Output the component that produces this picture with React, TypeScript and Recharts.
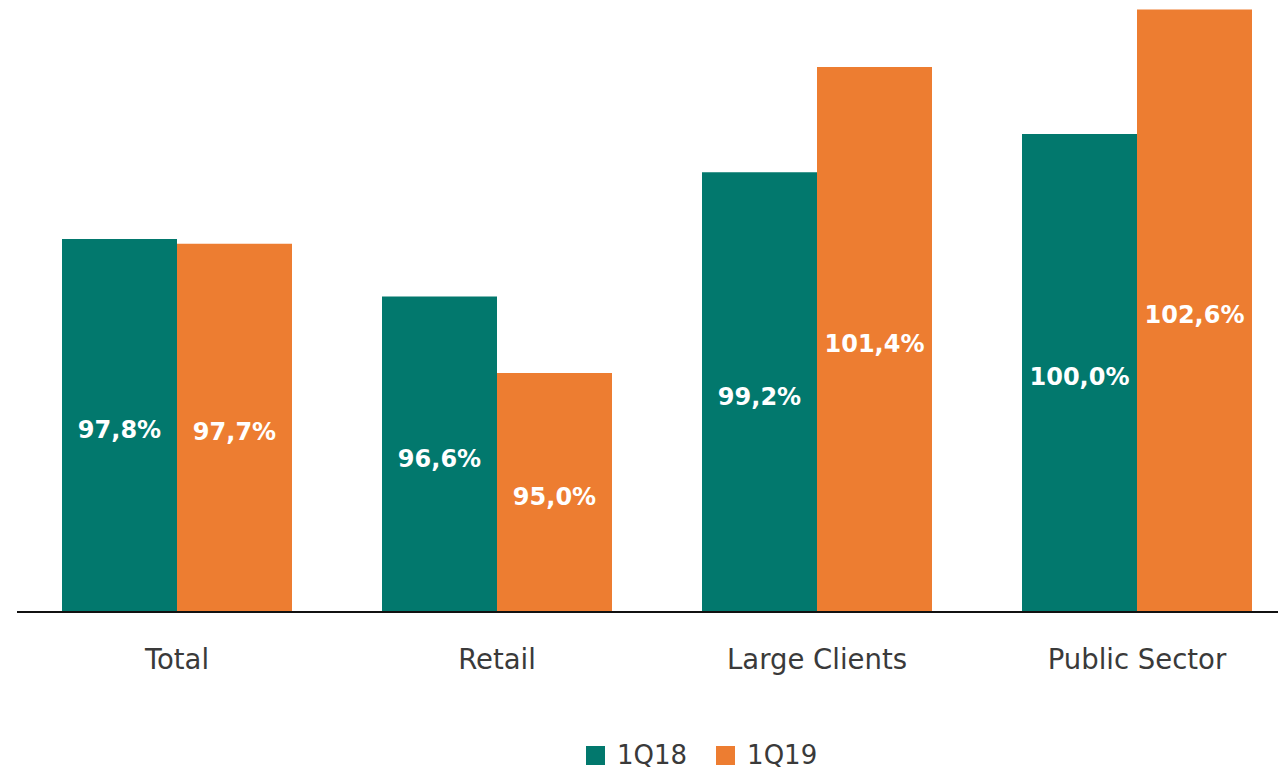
import { BarChart, Bar, XAxis, YAxis, Legend, LabelList } from 'recharts'

const categories = ['Total', 'Retail', 'Large Clients', 'Public Sector']
const q18 = [97.8, 96.6, 99.2, 100.0]
const q19 = [97.7, 95.0, 101.4, 102.6]
const seriesNames = ['1Q18', '1Q19']
const colors = ['#02786D', '#ED7D31']

const data = categories.map((name, i) => ({ name, q18: q18[i], q19: q19[i] }))

const font = '"DejaVu Sans", Verdana, sans-serif'
const fmt = (v: number) => v.toFixed(1).replace('.', ',') + '%'

function Tick(props: any) {
  const { x, y, payload } = props
  return (
    <text x={x} y={y + 39} textAnchor="middle" dominantBaseline="central" fill="#3a3a3a" fontSize={27.5} fontFamily={font}>
      {payload.value}
    </text>
  )
}

function LegendBox() {
  return (
    <div style={{ display: 'flex', height: 60, fontFamily: font, fontSize: 26, color: '#3a3a3a' }}>
      {seriesNames.map((s, i) => (
        <div key={s} style={{ display: 'flex', alignItems: 'center', marginTop: 31, height: 24, marginRight: 29 }}>
          <span style={{ width: 19, height: 19, background: colors[i], display: 'inline-block', marginRight: 12 }} />
          <span>{s}</span>
        </div>
      ))}
    </div>
  )
}

export default function App() {
  return (
    <div style={{ position: 'absolute', left: 0, top: 0, width: 1278, height: 772, overflow: 'hidden', background: '#fff' }}>
      <BarChart
        width={1310}
        height={772}
        data={data}
        margin={{ top: 0, right: 13, left: 17, bottom: 0 }}
        barCategoryGap={45}
        barGap={0}
      >
        <XAxis dataKey="name" tickLine={false} axisLine={{ stroke: '#111', strokeWidth: 2 }} tick={<Tick />} height={100} interval={0} />
        <YAxis hide domain={[90, 102.8]} allowDataOverflow />
        <Legend verticalAlign="bottom" height={60} content={<LegendBox />} wrapperStyle={{ left: 586, width: 320 }} />
        <Bar dataKey="q18" name="1Q18" fill={colors[0]} isAnimationActive={false}>
          <LabelList dataKey="q18" position="center" formatter={(v: any) => fmt(Number(v))} fill="#fff" fontSize={24} fontWeight="bold" fontFamily={font} dy={4} />
        </Bar>
        <Bar dataKey="q19" name="1Q19" fill={colors[1]} isAnimationActive={false}>
          <LabelList dataKey="q19" position="center" formatter={(v: any) => fmt(Number(v))} fill="#fff" fontSize={24} fontWeight="bold" fontFamily={font} dy={4} />
        </Bar>
      </BarChart>
    </div>
  )
}
